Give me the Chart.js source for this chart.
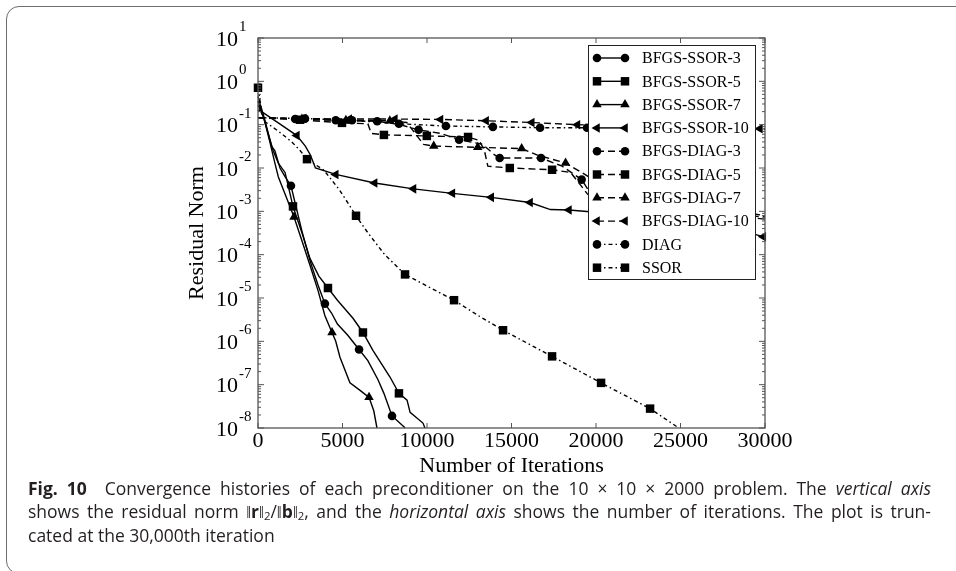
<!DOCTYPE html>
<html>
<head>
<meta charset="utf-8">
<script src="https://cdn.jsdelivr.net/npm/chart.js@4.4.1/dist/chart.umd.min.js"></script>
<style>
  html, body { margin: 0; padding: 0; background: #fff; }
  body { width: 956px; height: 571px; position: relative; overflow: hidden; }
  #frame { position: absolute; left: 6px; top: 6px; width: 1000px; height: 566px;
           border: 1.2px solid #6d6e71; border-radius: 13px 0 0 13px; }
  #wrap { position: absolute; left: 0; top: 0; width: 956px; height: 490px; }
  .cap { position: absolute; left: 28px; width: 903px; font-family: "Open Sans"; font-size: 15px;
         color: #231f20; line-height: 22px; text-align: justify; white-space: nowrap; }
  .just { text-align-last: justify; }
  sub { font-size: 0.65em; vertical-align: -0.15em; line-height: 0; }
  #probe { position: absolute; visibility: hidden; white-space: nowrap; font-family: "Open Sans"; font-size: 15px; }
</style>
</head>
<body>
<div id="frame"></div>
<div id="wrap"><canvas id="myChart" width="956" height="490"></canvas></div>
<div class="cap just" style="top:477px"><b>Fig. 10</b>&nbsp; Convergence histories of each preconditioner on the 10 × 10 × 2000 problem. The <i>vertical axis</i></div>
<div class="cap just" id="line2" style="top:500px">shows the residual norm ‖<b>r</b>‖<sub>2</sub>/‖<b>b</b>‖<sub>2</sub>, and the <i>horizontal axis</i> shows the number of iterations. The plot is trun-</div>
<div class="cap" style="top:524px">cated at the 30,000th iteration</div>
<span id="probe"></span>

<script>
// axes
const xMax = 30000;
const xStep = 5000;
const yExps = [1, 0, -1, -2, -3, -4, -5, -6, -7, -8];

// BFGS-SSOR-3
const ssor3It = [0, 400, 800, 1000, 1300, 1600, 1950, 2600, 3080, 3550, 3960, 4350, 4700, 5300, 5980, 6500, 7100, 7450, 7930, 8600, 8700];
const ssor3Val = [4.5e-1, 1.3e-1, 3.2e-2, 2.5e-2, 1.0e-2, 6.3e-3, 3.9e-3, 3.5e-4, 7.2e-5, 2.0e-5, 7.4e-6, 4.5e-6, 2.5e-6, 1.4e-6, 6.5e-7, 3.6e-7, 1.3e-7, 6.3e-8, 1.9e-8, 1.1e-8, 1.0e-8];
const ssor3Marks = [1950, 3960, 5980, 7930];

// BFGS-SSOR-5
const ssor5It = [0, 300, 600, 900, 1200, 1600, 2070, 2600, 3080, 3600, 4140, 4700, 5620, 6210, 6800, 7810, 8340, 8820, 9000, 9760, 9880];
const ssor5Val = [3.5e-1, 1.6e-1, 6.3e-2, 2.5e-2, 1.3e-2, 7.9e-3, 1.3e-3, 3.2e-4, 8.1e-5, 3.2e-5, 1.7e-5, 8.9e-6, 3.4e-6, 1.6e-6, 6.2e-7, 1.5e-7, 6.3e-8, 4.4e-8, 2.3e-8, 1.3e-8, 1.0e-8];
const ssor5Marks = [2070, 4140, 6210, 8340];

// BFGS-SSOR-7
const ssor7It = [0, 350, 700, 1000, 1200, 1600, 2130, 2600, 3080, 3550, 3960, 4380, 4600, 4850, 5440, 6040, 6570, 6850, 7040];
const ssor7Val = [2.8e-1, 1.4e-1, 4.0e-2, 1.3e-2, 6.3e-3, 2.5e-3, 7.4e-4, 2.1e-4, 5.6e-5, 1.5e-5, 3.9e-6, 1.6e-6, 1.0e-6, 4.3e-7, 1.1e-7, 7.4e-8, 5.1e-8, 2.5e-8, 1.0e-8];
const ssor7Marks = [2130, 4380, 6570];

// BFGS-SSOR-10
const ssor10It = [0, 300, 1200, 2300, 2800, 3100, 3400, 4600, 6900, 9200, 11500, 13800, 16100, 17300, 18400, 20700, 23000, 25300, 27600, 29900];
const ssor10Val = [2.2e-1, 1.9e-1, 1.1e-1, 5.6e-2, 3.2e-2, 2.0e-2, 1.0e-2, 7.1e-3, 4.5e-3, 3.3e-3, 2.6e-3, 2.1e-3, 1.6e-3, 1.1e-3, 1.07e-3, 9.0e-4, 7.5e-4, 6.0e-4, 4.5e-4, 2.6e-4];
const ssor10Marks = [2300, 4600, 6900, 9200, 11500, 13800, 16100, 18400, 20700, 23000, 25300, 27600, 29900];

// BFGS-DIAG-3
const diag3It = [0, 2200, 4600, 7050, 8400, 9500, 10800, 11900, 13300, 14000, 14300, 16750, 18000, 19150, 19700, 22000, 26000, 30000];
const diag3Val = [1.45e-1, 1.35e-1, 1.26e-1, 1.2e-1, 1.0e-1, 7.6e-2, 6.3e-2, 4.5e-2, 3.5e-2, 2.0e-2, 1.7e-2, 1.7e-2, 1.1e-2, 5.4e-3, 2.5e-3, 1.4e-3, 1.0e-3, 7.4e-4];
const diag3Marks = [2200, 4600, 7050, 9500, 11900, 14300, 16750, 19150];

// BFGS-DIAG-5
const diag5It = [0, 2490, 4970, 6500, 6700, 7450, 9990, 12430, 13100, 13400, 13600, 14900, 17400, 18500, 19500, 23000, 30000];
const diag5Val = [1.45e-1, 1.3e-1, 1.1e-1, 1.05e-1, 6.3e-2, 5.8e-2, 5.5e-2, 5.2e-2, 4.3e-2, 2.5e-2, 1.1e-2, 1.0e-2, 9.1e-3, 7.9e-3, 2.5e-3, 1.3e-3, 6.6e-4];
const diag5Marks = [2490, 4970, 7450, 9990, 12430, 14900, 17400];

// BFGS-DIAG-7
const diag7It = [0, 2600, 5200, 7800, 8800, 9800, 10400, 13000, 15600, 16500, 18200, 20000, 24000, 30000];
const diag7Val = [1.45e-1, 1.35e-1, 1.26e-1, 1.23e-1, 1.12e-1, 3.5e-2, 3.2e-2, 3.0e-2, 2.8e-2, 2.0e-2, 1.3e-2, 5.0e-3, 2.0e-3, 7.9e-4];
const diag7Marks = [2600, 5200, 7800, 10400, 13000, 15600, 18200];

// BFGS-DIAG-10
const diag10It = [0, 2700, 5400, 8100, 10800, 13500, 16200, 18900, 24000, 29700, 30000];
const diag10Val = [1.45e-1, 1.38e-1, 1.35e-1, 1.35e-1, 1.32e-1, 1.23e-1, 1.12e-1, 1.0e-1, 8.9e-2, 8.1e-2, 8.0e-2];
const diag10Marks = [2700, 5400, 8100, 10800, 13500, 16200, 18900, 29700];

// DIAG
const diagIt = [0, 2780, 5560, 8340, 11120, 13900, 16690, 19470, 25000, 30000];
const diagVal = [1.45e-1, 1.38e-1, 1.26e-1, 1.05e-1, 9.3e-2, 8.9e-2, 8.5e-2, 8.5e-2, 8.1e-2, 7.9e-2];
const diagMarks = [2780, 5560, 8340, 11120, 13900, 16690, 19470];

// SSOR
const ssorIt = [0, 300, 1200, 2000, 2500, 2900, 3900, 4800, 5300, 5800, 6500, 7500, 8700, 10100, 11600, 13000, 14500, 17400, 20300, 23200, 24900];
const ssorVal = [7.1e-1, 1.26e-1, 7.1e-2, 4.0e-2, 2.5e-2, 1.6e-2, 8.9e-3, 3.2e-3, 1.6e-3, 7.9e-4, 3.2e-4, 1.0e-4, 3.5e-5, 1.8e-5, 8.9e-6, 4.0e-6, 1.8e-6, 4.5e-7, 1.1e-7, 2.8e-8, 1.0e-8];
const ssorMarks = [0, 2900, 5800, 8700, 11600, 14500, 17400, 20300, 23200];

const SOLID = [];
const DASH = [7, 4];
const DASHDOT = [4, 3, 1.5, 3];

// caption: grow the font until the full lines reach the box width
(() => {
    const probe = document.getElementById('probe');
    probe.innerHTML = document.getElementById('line2').innerHTML;
    const w = probe.getBoundingClientRect().width;
    const size = Math.min(17.5, 15 * 896 / w);
    document.querySelectorAll('.cap').forEach(el => { el.style.fontSize = size + 'px'; });
})();

const mkSet = (label, its, vals, marks, style, dash, r, rot) => {
    const m = new Set(marks);
    return {
        label: label,
        data: its.map((x, i) => ({ x: x, y: vals[i] })),
        borderColor: '#000',
        backgroundColor: '#000',
        borderWidth: 1.4,
        borderDash: dash,
        pointStyle: style,
        pointRotation: rot || 0,
        markR: r,
        pointRadius: (c) => (c.raw && m.has(c.raw.x)) ? r : 0,
        pointHoverRadius: 0,
        pointBorderWidth: 0,
        pointBackgroundColor: '#000',
        tension: 0,
        clip: false
    };
};

const datasets = [
    mkSet('BFGS-SSOR-3', ssor3It, ssor3Val, ssor3Marks, 'circle', SOLID, 4.3),
    mkSet('BFGS-SSOR-5', ssor5It, ssor5Val, ssor5Marks, 'rect', SOLID, 6),
    mkSet('BFGS-SSOR-7', ssor7It, ssor7Val, ssor7Marks, 'triangle', SOLID, 5.5),
    mkSet('BFGS-SSOR-10', ssor10It, ssor10Val, ssor10Marks, 'triangle', SOLID, 5.5, -90),
    mkSet('BFGS-DIAG-3', diag3It, diag3Val, diag3Marks, 'circle', DASH, 4.3),
    mkSet('BFGS-DIAG-5', diag5It, diag5Val, diag5Marks, 'rect', DASH, 6),
    mkSet('BFGS-DIAG-7', diag7It, diag7Val, diag7Marks, 'triangle', DASH, 5.5),
    mkSet('BFGS-DIAG-10', diag10It, diag10Val, diag10Marks, 'triangle', DASH, 5.5, -90),
    mkSet('DIAG', diagIt, diagVal, diagMarks, 'circle', DASHDOT, 4.3),
    mkSet('SSOR', ssorIt, ssorVal, ssorMarks, 'rect', DASHDOT, 6)
];

const serif = '"Liberation Serif", "Times New Roman", serif';

// frame, inward ticks and 10^n labels
const framePlugin = {
    id: 'frame',
    afterDatasetsDraw(chart) {
        const { ctx, chartArea: a } = chart;
        const xs = chart.scales.x, ys = chart.scales.y;
        const seg = (x1, y1, x2, y2) => { ctx.beginPath(); ctx.moveTo(x1, y1); ctx.lineTo(x2, y2); ctx.stroke(); };
        ctx.save();
        ctx.setLineDash([]);
        ctx.strokeStyle = '#555';
        ctx.lineWidth = 1.3;
        ctx.strokeRect(a.left, a.top, a.right - a.left, a.bottom - a.top);
        ctx.lineWidth = 1;
        for (let v = 0; v <= xMax; v += xStep) {
            const px = xs.getPixelForValue(v);
            seg(px, a.bottom, px, a.bottom - 5);
            seg(px, a.top, px, a.top + 5);
        }
        const lo = Math.min(...yExps), hi = Math.max(...yExps);
        for (let e = lo; e <= hi; e++) {
            for (let m = 1; m < 10; m++) {
                if (e === hi && m > 1) break;
                const py = ys.getPixelForValue(m * Math.pow(10, e));
                const len = m === 1 ? 6 : 3;
                seg(a.left, py, a.left + len, py);
                seg(a.right, py, a.right - len, py);
            }
        }
        ctx.fillStyle = '#000';
        ctx.textAlign = 'left';
        ctx.textBaseline = 'alphabetic';
        yExps.forEach(e => {
            const py = ys.getPixelForValue(Math.pow(10, e));
            ctx.font = '22px ' + serif;
            ctx.fillText('10', a.left - 42, py + 7.5);
            const w = ctx.measureText('10').width;
            ctx.font = '15px ' + serif;
            ctx.fillText(String(e), a.left - 42 + w + 1, py - 7);
        });
        ctx.restore();
    }
};

// boxed legend with line + marker samples
const legendPlugin = {
    id: 'boxLegend',
    afterDatasetsDraw(chart) {
        const { ctx, chartArea: a } = chart;
        const bx = a.right - 177, by = a.top + 7, bw = 167, bh = 234;
        ctx.save();
        ctx.fillStyle = '#fff';
        ctx.fillRect(bx, by, bw, bh);
        ctx.strokeStyle = '#222';
        ctx.lineWidth = 1;
        ctx.setLineDash([]);
        ctx.strokeRect(bx + 0.5, by + 0.5, bw, bh);
        chart.data.datasets.forEach((ds, i) => {
            const y = by + 13 + i * 23.3;
            const x1 = bx + 9, x2 = bx + 37;
            ctx.setLineDash(ds.borderDash);
            ctx.lineWidth = ds.borderWidth;
            ctx.strokeStyle = '#000';
            ctx.beginPath(); ctx.moveTo(x1, y); ctx.lineTo(x2, y); ctx.stroke();
            ctx.setLineDash([]);
            ctx.fillStyle = '#000';
            [x1, x2].forEach(x => {
                Chart.helpers.drawPoint(ctx, {
                    pointStyle: ds.pointStyle, rotation: ds.pointRotation,
                    radius: ds.markR, borderWidth: 0
                }, x, y);
            });
            ctx.font = '16px ' + serif;
            ctx.textBaseline = 'middle';
            ctx.textAlign = 'left';
            ctx.fillText(ds.label, bx + 54, y + 1);
        });
        ctx.restore();
    }
};

new Chart(document.getElementById('myChart'), {
    type: 'line',
    data: { datasets: datasets },
    options: {
        responsive: false,
        animation: false,
        events: [],
        layout: { padding: { left: 180, right: 191, top: 38, bottom: 0 } },
        plugins: { legend: { display: false }, tooltip: { enabled: false } },
        scales: {
            x: {
                type: 'linear',
                min: 0,
                max: xMax,
                afterFit: (s) => { s.height = 62; },
                ticks: {
                    stepSize: xStep,
                    autoSkip: false,
                    maxRotation: 0,
                    padding: 0,
                    color: '#000',
                    font: { family: serif, size: 22 },
                    callback: (v) => String(v)
                },
                grid: { display: false, drawTicks: false },
                border: { display: false },
                title: {
                    display: true,
                    text: 'Number of Iterations',
                    color: '#000',
                    font: { family: serif, size: 22 },
                    padding: { top: 0, bottom: 11 }
                }
            },
            y: {
                type: 'logarithmic',
                min: 1e-8,
                max: 10,
                afterFit: (s) => { s.width = 78; },
                ticks: { display: false },
                grid: { display: false, drawTicks: false },
                border: { display: false },
                title: {
                    display: true,
                    text: 'Residual Norm',
                    color: '#000',
                    font: { family: serif, size: 22 },
                    padding: { top: 4, bottom: 0 }
                }
            }
        }
    },
    plugins: [framePlugin, legendPlugin]
});
</script>
</body>
</html>
